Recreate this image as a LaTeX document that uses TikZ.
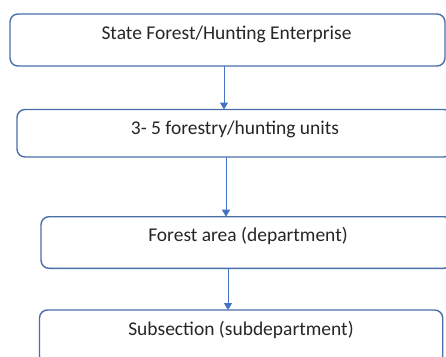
\documentclass[tikz,border=0pt]{standalone}
\usepackage{fontspec}
\setmainfont{Carlito}
\usetikzlibrary{arrows.meta}
\definecolor{boxc}{HTML}{4A6EA8}
\definecolor{arrc}{HTML}{4472C4}
\begin{document}
\begin{tikzpicture}[x=1pt,y=-1pt,
  box/.style={draw=boxc, line width=1.4pt, rounded corners=8pt, inner sep=0pt, outer sep=0pt, fill=white},
  lbl/.style={anchor=base, inner sep=0pt, font=\fontsize{19.5}{22}\selectfont, text=black!85},
  arr/.style={draw=arrc, line width=1pt, -{Triangle[length=7pt,width=8pt]}}]
\useasboundingbox (0,0) rectangle (446,356);
\node[box, minimum width=435pt, minimum height=52pt] (b1) at (227.5,40) {};
\node[box, minimum width=435pt, minimum height=47.5pt] (b2) at (234.5,133.25) {};
\node[box, minimum width=411pt, minimum height=51.6pt] (b3) at (246.5,242.5) {};
\node[box, minimum width=403.2pt, minimum height=54pt] (b4) at (241.1,337) {};
\node[lbl] (t1) at (226.5,39) {State Forest/Hunting Enterprise};
\node[lbl] (t2) at (235,134) {3- 5 forestry/hunting units};
\node[lbl] (t3) at (248,241.7) {Forest area (department)};
\node[lbl] (t4) at (241,335.7) {Subsection (subdepartment)};
\coordinate (a1) at (224,0);
\coordinate (a2) at (226,0);
\coordinate (a3) at (228,0);
\draw[arr] (b1.south -| a1) -- (b2.north -| a1);
\draw[arr] (b2.south -| a2) -- (b3.north -| a2);
\draw[arr] (b3.south -| a3) -- (b4.north -| a3);
\end{tikzpicture}
\end{document}
